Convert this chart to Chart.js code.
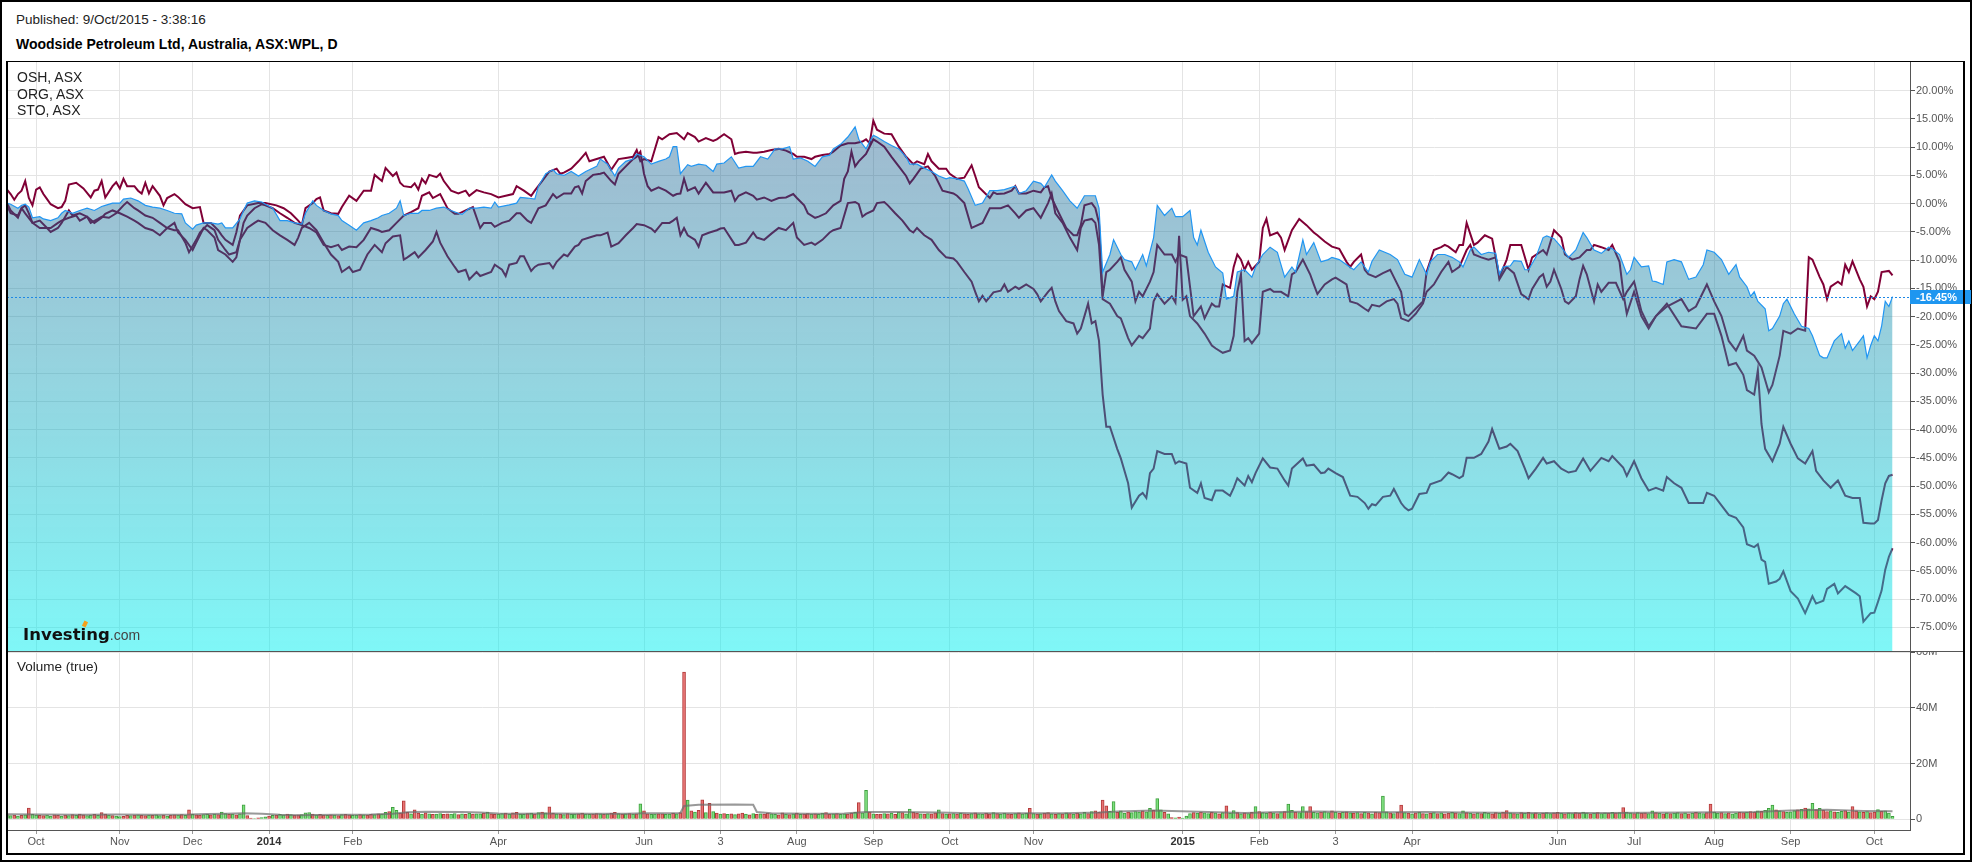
<!DOCTYPE html>
<html>
<head>
<meta charset="utf-8">
<title>Woodside Petroleum Ltd, Australia, ASX:WPL, D</title>
<script src="https://cdn.jsdelivr.net/npm/chart.js@4.4.1/dist/chart.umd.min.js"></script>
<style>
  html, body { margin: 0; padding: 0; background: #fff; }
  body { width: 1972px; height: 862px; position: relative; overflow: hidden; font-family: "Liberation Sans", Arial, sans-serif; color: #222; }
  .abs { position: absolute; white-space: nowrap; }
  #outer { left: 0; top: 0; width: 1972px; height: 862px; box-sizing: border-box; border: 2px solid #000; }
  #frame { left: 6px; top: 61px; width: 1959px; height: 794px; box-sizing: border-box; border: 2px solid #000; border-top-width: 1px; z-index: 5; }
  #sep { left: 7px; top: 651px; width: 1957px; height: 1px; background: #555; z-index: 4; }
  canvas { position: absolute; left: 0; }
  #price { top: 61px; z-index: 2; }
  #vol { top: 652px; z-index: 2; }
  .pub { font-size: 13.5px; line-height: 16px; }
  .ttl { font-size: 14px; line-height: 16px; font-weight: bold; color: #000; }
  .leg { font-size: 14px; line-height: 16px; z-index: 6; }
  #logo { left: 23px; top: 625px; z-index: 6; line-height: 20px; }
  #logo b { font-family: "DejaVu Sans", sans-serif; font-weight: bold; font-size: 16.5px; color: #111; }
  #logo span { font-size: 14px; color: #444; }
  #dot { left: 83px; top: 621px; width: 4px; height: 6px; background: #f5a01a; transform: rotate(25deg); z-index: 7; }
</style>
</head>
<body>
<div id="outer" class="abs"></div>
<div class="abs pub" style="left:16px; top:12px;">Published: 9/Oct/2015 - 3:38:16</div>
<div class="abs ttl" style="left:16px; top:36px;">Woodside Petroleum Ltd, Australia, ASX:WPL, D</div>

<canvas id="price" width="1972" height="591"></canvas>
<canvas id="vol" width="1972" height="202"></canvas>

<div id="frame" class="abs"></div>
<div id="sep" class="abs"></div>

<div class="abs leg" style="left:17px; top:69px;">OSH, ASX</div>
<div class="abs leg" style="left:17px; top:86px;">ORG, ASX</div>
<div class="abs leg" style="left:17px; top:102px;">STO, ASX</div>
<div id="logo" class="abs"><b>Investing</b><span>.com</span></div>
<div id="dot" class="abs"></div>
<div class="abs leg" style="left:17px; top:659px; font-size:13.5px;">Volume (true)</div>

<script>
// axe des x : index de seance (jour de bourse), 0 = 19 sept 2013, 518 = 9 oct 2015
const monthTicks = [8, 31, 51, 72, 95, 135, 175, 196, 217, 238, 259, 282, 323, 344, 365, 386, 426, 447, 469, 490, 513];
const monthLabels = ['Oct', 'Nov', 'Dec', '2014', 'Feb', 'Apr', 'Jun', '3', 'Aug', 'Sep', 'Oct', 'Nov', '2015', 'Feb', '3', 'Apr', 'Jun', 'Jul', 'Aug', 'Sep', 'Oct'];
const priceTicks = [20, 15, 10, 5, 0, -5, -10, -15, -20, -25, -30, -35, -40, -45, -50, -55, -60, -65, -70, -75];
const volTicks = [0, 20, 40, 60];

// variation en % depuis le debut : [seance, %]
const wpl = [[0,0.1],[1,-0.1],[3,-0.8],[4,-0.3],[5,-0.1],[6,-0.6],[7,-2.5],[9,-2.3],[10,-2.7],[12,-3.0],[14,-2.5],[15,-1.7],[16,-1.2],[18,-1.7],[20,-1.2],[22,-0.8],[24,-1.2],[26,-0.5],[27,-0.3],[29,0.1],[31,0.1],[32,0.8],[34,1.0],[36,0.5],[38,-0.3],[40,-0.6],[42,-0.8],[44,-1.2],[46,-1.7],[48,-1.8],[49,-3.4],[51,-4.5],[52,-3.8],[54,-3.4],[56,-3.4],[58,-3.6],[59,-3.4],[60,-4.3],[62,-4.3],[64,-2.7],[65,-1.2],[66,0.1],[68,0.5],[70,0.3],[71,-0.1],[73,-0.8],[75,-3.0],[77,-3.0],[79,-3.4],[81,-3.6],[82,-1.7],[84,0.5],[85,-0.3],[87,-1.2],[89,-1.8],[91,-2.1],[92,-3.0],[94,-3.8],[96,-4.7],[98,-3.4],[100,-3.0],[102,-2.5],[103,-2.1],[105,-1.7],[107,-0.8],[108,0.5],[109,-2.1],[111,-1.7],[113,-1.7],[114,-1.2],[116,-1.2],[118,-0.8],[120,-0.6],[122,-1.2],[124,-1.7],[125,-1.9],[127,-0.8],[129,-0.8],[131,-0.6],[133,-0.8],[134,0.3],[135,-0.6],[138,-0.2],[140,0.1],[141,1.1],[143,1.0],[145,0.8],[146,3.1],[148,5.3],[150,6.0],[151,5.3],[153,5.0],[155,5.7],[157,4.9],[159,5.7],[162,6.6],[163,7.9],[165,7.0],[167,4.9],[168,6.3],[170,7.5],[172,7.9],[173,8.8],[175,8.3],[177,7.0],[179,7.5],[181,7.9],[182,8.3],[183,10.1],[184,10.1],[185,5.3],[187,6.9],[188,6.6],[190,7.0],[192,6.8],[194,5.7],[195,7.0],[197,7.2],[199,8.3],[201,6.3],[203,6.6],[205,6.6],[207,8.3],[209,7.9],[211,9.7],[213,9.7],[215,10.1],[216,7.9],[218,8.1],[220,7.5],[222,6.6],[224,8.3],[226,8.6],[227,9.7],[229,10.5],[231,11.8],[233,13.6],[234,11.4],[236,9.7],[237,11.0],[238,12.1],[239,11.8],[241,11.0],[243,10.3],[245,9.7],[247,8.3],[248,7.0],[250,7.0],[252,6.3],[254,5.7],[256,4.9],[258,4.4],[259,4.6],[261,4.4],[263,4.0],[264,2.7],[266,-0.3],[268,0.1],[270,2.3],[272,2.3],[274,2.5],[276,2.9],[277,3.1],[278,1.8],[280,2.3],[282,4.0],[284,3.6],[285,2.9],[287,5.1],[288,4.0],[290,2.3],[292,0.5],[294,-0.8],[296,1.4],[298,1.4],[299,1.4],[300,-0.8],[301,-12.1],[303,-9.0],[304,-6.4],[306,-9.0],[307,-9.9],[309,-10.3],[310,-11.7],[312,-9.0],[313,-11.0],[315,-6.0],[316,-0.3],[318,-2.1],[320,-0.8],[321,-2.3],[323,-2.3],[325,-1.2],[326,-6.0],[327,-7.3],[328,-4.7],[330,-8.6],[332,-11.2],[334,-12.3],[335,-16.9],[337,-16.4],[338,-12.1],[340,-11.7],[342,-13.0],[343,-11.2],[345,-9.0],[347,-7.7],[349,-8.6],[351,-13.0],[353,-11.2],[354,-12.1],[356,-6.4],[357,-9.0],[359,-6.9],[361,-10.3],[363,-9.9],[364,-9.5],[366,-9.9],[368,-10.8],[370,-11.7],[372,-10.3],[374,-12.1],[375,-10.2],[377,-8.2],[380,-9.0],[382,-9.9],[384,-12.5],[386,-13.0],[388,-9.9],[390,-12.5],[391,-10.3],[393,-9.0],[395,-9.0],[397,-9.5],[399,-10.3],[400,-11.2],[402,-8.2],[403,-7.7],[405,-9.0],[407,-8.6],[409,-8.8],[410,-12.5],[411,-11.2],[413,-11.0],[414,-10.1],[416,-10.2],[417,-11.7],[418,-11.7],[420,-9.5],[422,-6.0],[423,-5.7],[425,-6.2],[427,-7.7],[429,-9.5],[431,-8.2],[433,-5.1],[434,-6.0],[436,-8.2],[438,-8.8],[440,-7.7],[441,-8.0],[443,-9.0],[445,-12.5],[446,-11.7],[447,-9.5],[449,-11.2],[451,-11.0],[452,-13.7],[453,-13.8],[455,-14.3],[456,-10.3],[458,-9.9],[460,-10.3],[462,-13.4],[464,-13.0],[466,-10.8],[467,-8.2],[469,-8.6],[471,-9.9],[473,-12.5],[475,-10.8],[476,-13.0],[478,-14.7],[479,-16.4],[480,-15.6],[481,-17.3],[483,-18.6],[484,-22.5],[485,-22.1],[487,-19.9],[488,-17.7],[489,-16.9],[491,-19.5],[493,-21.7],[495,-22.1],[496,-23.4],[498,-26.9],[499,-27.3],[500,-27.3],[502,-24.3],[504,-23.0],[505,-25.6],[506,-24.3],[507,-26.0],[509,-24.3],[510,-23.4],[511,-27.3],[512,-25.1],[513,-23.4],[514,-24.3],[515,-21.7],[516,-17.3],[517,-18.2],[518,-16.45]];

const osh = [[0,2.5],[1,1.7],[2,0.7],[3,1.7],[4,2.3],[5,4.0],[6,1.0],[7,-0.3],[8,2.5],[9,2.9],[10,1.7],[11,0.8],[12,-0.1],[14,-0.8],[15,-0.6],[16,0.5],[17,3.4],[19,3.7],[21,2.7],[23,1.1],[24,2.3],[25,2.5],[26,4.0],[27,1.1],[29,3.1],[30,3.8],[31,2.7],[32,4.4],[33,3.1],[35,3.1],[36,2.3],[37,1.8],[38,3.7],[39,1.8],[40,3.1],[42,1.4],[43,-0.3],[44,1.0],[46,1.7],[47,1.2],[49,-0.1],[51,-0.8],[53,-0.6],[54,-3.4],[56,-3.4],[58,-4.7],[59,-5.6],[60,-6.4],[62,-7.3],[63,-5.1],[64,-2.1],[66,-0.3],[69,0.1],[71,0.1],[74,-0.3],[76,-0.8],[78,-1.7],[80,-3.0],[81,-3.8],[82,-0.8],[84,0.1],[85,0.8],[86,1.1],[87,-1.2],[89,-1.7],[91,-1.8],[92,-0.6],[94,1.4],[96,0.5],[98,2.3],[100,2.3],[101,5.1],[103,4.0],[104,6.3],[106,4.9],[107,5.5],[108,3.7],[109,3.1],[111,2.9],[112,3.6],[113,2.5],[114,4.4],[115,3.6],[116,5.1],[118,4.7],[119,5.3],[120,4.0],[122,2.3],[124,1.8],[126,2.3],[127,1.4],[129,2.4],[131,2.0],[133,1.7],[135,1.1],[137,1.4],[139,1.7],[140,3.1],[142,2.3],[144,1.4],[145,2.3],[147,4.0],[149,5.7],[151,6.2],[152,5.3],[153,5.5],[155,6.2],[157,7.5],[159,9.0],[160,7.5],[162,7.9],[164,8.3],[166,6.0],[168,7.9],[170,8.1],[172,8.3],[173,9.5],[174,7.5],[175,7.9],[177,7.5],[179,11.8],[180,11.4],[182,12.3],[184,12.5],[186,11.4],[187,12.5],[189,11.8],[190,11.0],[192,11.6],[194,11.1],[195,11.4],[197,12.3],[199,11.4],[200,8.8],[201,9.0],[203,9.2],[205,9.0],[206,9.0],[208,9.2],[210,9.5],[212,9.7],[214,9.4],[216,8.8],[217,8.3],[219,8.3],[221,7.9],[222,8.3],[224,8.6],[226,8.8],[227,9.2],[229,10.3],[231,10.7],[233,10.7],[235,11.0],[236,11.4],[237,10.7],[238,14.7],[239,13.1],[241,12.4],[243,12.3],[245,10.1],[247,8.3],[249,7.0],[250,7.5],[252,7.0],[253,8.8],[254,7.5],[256,6.2],[258,6.2],[259,5.3],[261,4.4],[263,4.6],[265,6.8],[266,4.9],[267,2.9],[268,2.3],[270,1.0],[271,2.0],[272,1.7],[274,1.8],[276,2.3],[277,3.1],[278,1.8],[280,1.8],[282,2.3],[284,2.0],[285,2.9],[286,3.1],[287,1.0],[289,-1.7],[291,-4.3],[293,-5.6],[294,-5.6],[295,-3.8],[296,-0.3],[298,0.1],[299,-0.8],[300,-3.4],[301,-16.4],[302,-12.1],[303,-11.7],[305,-10.3],[306,-9.5],[307,-11.7],[309,-13.8],[310,-17.3],[311,-15.6],[312,-16.4],[314,-13.8],[315,-12.1],[316,-7.3],[318,-9.0],[320,-9.0],[321,-10.3],[322,-9.0],[324,-9.5],[325,-14.7],[326,-19.9],[328,-18.2],[329,-20.3],[331,-17.7],[332,-18.2],[333,-18.2],[334,-14.3],[336,-14.9],[337,-11.2],[338,-9.0],[339,-9.9],[340,-11.7],[341,-10.3],[342,-11.7],[344,-10.3],[345,-4.3],[346,-2.7],[347,-5.6],[349,-5.1],[350,-6.0],[351,-8.2],[353,-4.7],[355,-2.7],[357,-3.8],[359,-5.1],[360,-5.6],[362,-6.7],[364,-7.6],[366,-8.0],[368,-10.3],[369,-11.2],[370,-10.3],[372,-9.0],[373,-11.7],[374,-12.5],[376,-13.0],[378,-12.3],[380,-11.7],[381,-13.0],[383,-15.6],[384,-19.5],[385,-19.9],[387,-18.6],[389,-17.3],[390,-12.1],[392,-8.2],[394,-7.7],[395,-7.3],[396,-7.6],[398,-8.6],[399,-7.3],[400,-7.3],[401,-3.4],[403,-7.3],[404,-6.9],[406,-5.6],[408,-6.2],[409,-9.5],[410,-13.0],[412,-9.9],[413,-7.3],[416,-7.3],[417,-9.5],[418,-11.7],[419,-9.5],[422,-8.2],[423,-9.0],[425,-4.7],[427,-6.0],[428,-9.0],[430,-9.9],[432,-9.5],[434,-8.2],[435,-8.2],[436,-7.3],[438,-7.7],[440,-8.2],[441,-7.3],[443,-10.3],[444,-15.6],[445,-19.5],[447,-15.6],[449,-19.9],[451,-22.1],[453,-19.9],[456,-18.2],[460,-16.9],[462,-19.0],[464,-18.2],[467,-14.3],[469,-17.3],[471,-19.9],[473,-24.3],[475,-26.0],[477,-23.4],[478,-26.0],[480,-26.9],[482,-29.0],[484,-33.4],[485,-32.1],[487,-26.9],[488,-22.5],[490,-23.0],[492,-22.1],[494,-22.5],[495,-9.5],[496,-9.9],[498,-13.0],[499,-14.3],[500,-16.9],[501,-14.7],[503,-13.8],[504,-14.3],[505,-10.8],[506,-12.1],[507,-10.2],[509,-13.4],[510,-14.7],[511,-18.2],[512,-16.4],[513,-16.9],[514,-15.6],[515,-12.1],[517,-11.9],[518,-12.7]];

const org = [[0,0.1],[1,-1.2],[3,-2.5],[4,-0.8],[5,-0.3],[6,-1.7],[7,-3.4],[9,-3.0],[11,-4.3],[12,-5.0],[14,-4.3],[15,-3.4],[16,-2.3],[17,-1.2],[18,-2.1],[20,-1.7],[22,-2.3],[23,-3.4],[25,-2.7],[26,-2.3],[28,-2.5],[30,-1.7],[32,-0.3],[33,0.3],[35,-0.8],[36,-1.2],[38,-2.1],[40,-2.5],[42,-3.4],[44,-4.3],[46,-4.7],[47,-4.7],[49,-6.9],[50,-8.6],[52,-6.4],[53,-5.1],[55,-3.8],[57,-4.7],[58,-6.4],[60,-8.2],[61,-9.0],[63,-8.6],[64,-6.4],[65,-3.4],[66,-2.1],[68,-0.8],[70,-0.1],[71,-0.3],[73,-0.8],[75,-1.7],[77,-2.5],[79,-3.4],[81,-3.8],[83,-4.3],[85,-5.1],[87,-7.3],[89,-7.7],[91,-7.3],[92,-8.2],[94,-7.6],[96,-7.7],[98,-6.4],[100,-4.3],[102,-4.7],[103,-5.0],[105,-4.7],[107,-3.4],[109,-2.1],[111,-1.5],[113,-0.8],[114,1.4],[116,2.0],[117,1.0],[119,1.7],[121,-0.8],[123,-1.8],[124,-1.8],[126,-1.2],[128,-0.6],[130,-4.3],[131,-3.4],[133,-3.4],[134,-4.1],[136,-3.4],[138,-3.0],[140,-1.7],[141,-1.7],[143,-3.0],[144,-3.4],[146,-0.8],[148,-0.3],[150,1.7],[151,1.0],[153,1.8],[155,1.8],[156,2.9],[157,3.1],[158,1.8],[159,4.0],[161,5.1],[163,5.3],[164,5.5],[166,4.0],[167,3.4],[168,5.3],[170,6.6],[172,7.9],[173,8.3],[174,9.2],[175,5.3],[176,3.1],[177,2.3],[179,2.9],[181,2.3],[183,1.4],[184,1.7],[185,1.8],[186,4.4],[187,2.3],[189,2.9],[190,1.8],[192,3.7],[194,2.0],[195,2.0],[197,2.0],[199,2.3],[200,0.5],[201,1.4],[203,2.0],[205,1.4],[206,0.7],[208,1.1],[210,0.5],[212,1.0],[214,1.1],[216,1.7],[217,1.0],[219,-0.3],[220,-1.7],[222,-2.5],[223,-2.3],[225,-1.7],[227,-0.3],[228,0.1],[229,0.5],[230,4.4],[231,5.7],[232,9.2],[233,6.6],[234,7.5],[236,8.8],[238,11.4],[239,11.0],[241,10.1],[243,8.3],[245,6.6],[247,4.9],[248,3.6],[249,4.4],[251,6.2],[253,6.6],[255,4.9],[257,2.3],[260,1.8],[261,1.4],[263,0.1],[265,-4.3],[268,-3.4],[270,-0.8],[273,-0.8],[275,-0.3],[277,-1.7],[278,-2.5],[280,-1.2],[282,-0.8],[284,-2.5],[286,0.1],[287,1.8],[288,-1.7],[290,-3.4],[292,-6.0],[294,-8.2],[295,-4.3],[296,-3.0],[298,-2.7],[299,-3.4],[300,-7.3],[301,-16.9],[303,-17.7],[305,-19.9],[306,-20.3],[308,-23.8],[309,-25.1],[311,-23.4],[312,-23.8],[314,-22.1],[315,-17.3],[316,-16.0],[318,-17.7],[320,-16.4],[321,-17.5],[322,-5.7],[323,-17.0],[324,-16.4],[325,-19.9],[327,-21.2],[329,-23.0],[331,-25.1],[332,-25.6],[334,-26.4],[336,-26.0],[337,-23.4],[338,-15.6],[339,-12.5],[340,-24.3],[341,-23.8],[342,-24.7],[344,-23.0],[345,-15.6],[347,-15.1],[348,-15.6],[350,-15.6],[352,-16.4],[353,-12.5],[354,-12.1],[356,-9.9],[358,-12.5],[359,-14.3],[360,-16.0],[362,-14.3],[364,-13.4],[365,-13.1],[368,-14.3],[369,-17.3],[371,-17.7],[373,-18.6],[374,-19.0],[375,-17.9],[377,-18.2],[379,-17.3],[381,-16.9],[382,-17.7],[383,-20.3],[385,-20.8],[387,-19.5],[389,-17.7],[390,-15.6],[392,-14.3],[394,-12.1],[396,-10.3],[397,-12.1],[399,-11.2],[401,-8.2],[402,-7.3],[403,-9.0],[405,-9.5],[407,-9.9],[409,-9.5],[410,-13.4],[412,-11.2],[414,-12.3],[416,-16.0],[418,-16.9],[419,-15.1],[421,-13.0],[422,-12.5],[423,-14.7],[424,-13.8],[425,-11.7],[427,-15.1],[428,-17.3],[429,-17.7],[431,-16.4],[432,-13.4],[433,-11.0],[434,-12.5],[436,-17.3],[437,-14.3],[438,-15.6],[440,-14.0],[442,-14.0],[444,-16.9],[445,-15.6],[447,-13.8],[449,-19.0],[451,-21.7],[453,-19.9],[456,-17.7],[460,-21.7],[464,-22.1],[467,-19.5],[469,-19.5],[471,-23.4],[473,-28.6],[475,-28.2],[477,-30.3],[478,-33.0],[480,-33.8],[481,-29.5],[482,-39.0],[483,-43.4],[485,-45.6],[487,-42.5],[488,-39.5],[490,-42.5],[492,-45.1],[494,-46.0],[496,-43.8],[497,-47.3],[499,-49.0],[501,-50.3],[503,-49.0],[505,-51.7],[507,-52.1],[509,-52.1],[510,-56.5],[512,-56.6],[513,-56.6],[514,-56.0],[515,-52.5],[516,-49.5],[517,-48.2],[518,-48.0]];

const sto = [[0,-0.3],[1,-1.7],[3,-2.1],[4,-0.8],[5,-1.7],[7,-3.4],[9,-4.3],[10,-4.3],[12,-4.3],[14,-3.4],[15,-3.0],[17,-2.5],[19,-2.1],[20,-3.0],[22,-2.3],[24,-3.4],[26,-2.5],[27,-1.8],[29,-1.2],[31,-1.7],[33,-2.3],[35,-3.0],[36,-3.4],[38,-4.3],[40,-4.7],[42,-5.6],[44,-4.3],[46,-3.4],[47,-5.1],[49,-6.4],[51,-8.2],[52,-6.9],[54,-4.3],[55,-4.7],[57,-6.0],[58,-8.2],[60,-9.0],[62,-10.3],[63,-9.5],[64,-6.4],[66,-4.3],[68,-3.4],[69,-3.0],[71,-3.4],[73,-4.7],[75,-5.6],[77,-6.4],[79,-7.3],[80,-6.0],[81,-4.3],[83,-3.4],[85,-4.7],[87,-6.9],[89,-9.0],[91,-10.3],[92,-12.1],[94,-11.2],[95,-12.1],[97,-11.7],[99,-9.0],[101,-7.3],[103,-8.6],[104,-7.0],[106,-5.8],[108,-5.6],[109,-9.9],[110,-9.5],[112,-8.6],[113,-9.5],[115,-8.2],[117,-6.7],[118,-5.0],[119,-6.9],[121,-9.3],[123,-11.2],[124,-12.1],[126,-11.7],[127,-13.4],[129,-12.1],[130,-12.8],[133,-12.1],[134,-10.8],[136,-11.7],[137,-12.8],[138,-10.8],[140,-10.5],[141,-9.3],[142,-9.3],[144,-11.9],[145,-11.2],[146,-10.8],[149,-10.5],[150,-11.4],[151,-10.3],[153,-9.0],[154,-9.3],[156,-7.6],[157,-7.3],[158,-6.4],[160,-6.0],[162,-5.6],[163,-5.6],[165,-5.1],[166,-7.6],[168,-7.0],[170,-5.6],[172,-4.3],[173,-3.6],[175,-3.8],[177,-4.4],[178,-5.0],[180,-3.4],[182,-3.4],[183,-3.0],[184,-2.5],[185,-5.6],[186,-4.3],[187,-5.6],[189,-6.4],[190,-7.6],[191,-5.6],[193,-5.1],[195,-4.7],[196,-4.4],[197,-4.3],[200,-7.3],[201,-7.3],[203,-6.9],[205,-5.1],[206,-6.0],[208,-6.4],[210,-5.3],[212,-4.3],[214,-4.7],[216,-3.4],[217,-6.0],[219,-7.3],[221,-6.9],[222,-7.3],[224,-6.4],[226,-5.1],[227,-4.7],[229,-4.3],[231,0.1],[233,0.3],[234,-0.1],[235,-2.3],[236,-1.8],[238,-1.2],[239,0.1],[241,0.3],[242,-0.3],[244,-1.7],[246,-3.0],[248,-4.7],[249,-5.1],[250,-4.3],[252,-5.6],[254,-6.4],[256,-8.2],[258,-9.5],[260,-9.7],[261,-10.3],[263,-12.1],[265,-13.8],[266,-15.6],[267,-17.3],[268,-16.3],[269,-17.3],[271,-15.7],[273,-15.4],[274,-14.3],[275,-15.6],[277,-14.7],[278,-15.1],[280,-14.3],[282,-15.1],[283,-16.0],[284,-17.3],[286,-15.6],[287,-14.9],[288,-17.3],[289,-19.0],[291,-20.8],[293,-21.2],[294,-23.0],[295,-22.1],[297,-17.7],[298,-21.2],[299,-20.8],[300,-24.3],[301,-33.8],[302,-39.5],[303,-39.5],[305,-43.4],[306,-45.1],[308,-49.5],[309,-53.8],[311,-51.7],[312,-51.2],[313,-52.1],[314,-47.7],[315,-46.9],[316,-43.8],[318,-44.3],[320,-44.3],[321,-46.0],[322,-45.6],[324,-46.0],[325,-50.3],[327,-51.2],[328,-49.5],[329,-52.1],[331,-52.5],[332,-50.8],[334,-50.8],[336,-51.7],[337,-50.3],[338,-48.6],[340,-49.9],[341,-48.2],[342,-49.3],[343,-47.7],[345,-45.1],[347,-46.7],[349,-46.9],[351,-49.0],[352,-49.9],[353,-46.9],[356,-45.1],[357,-46.4],[359,-46.2],[361,-47.7],[362,-47.6],[363,-46.9],[365,-47.7],[367,-48.4],[369,-51.7],[371,-51.9],[373,-53.0],[374,-54.0],[375,-53.2],[376,-53.4],[378,-51.9],[380,-51.7],[381,-50.5],[383,-53.0],[384,-53.8],[385,-54.3],[386,-54.0],[388,-51.4],[390,-51.2],[391,-49.7],[394,-49.0],[396,-47.6],[397,-47.9],[399,-48.6],[400,-48.2],[401,-45.0],[403,-45.0],[405,-44.3],[407,-42.1],[408,-39.9],[410,-43.4],[412,-43.0],[413,-42.5],[415,-43.8],[417,-46.9],[418,-48.6],[420,-46.9],[422,-45.0],[423,-46.0],[425,-45.6],[427,-46.9],[429,-47.6],[431,-47.3],[433,-45.1],[435,-47.3],[438,-45.0],[440,-45.6],[441,-44.7],[444,-46.7],[445,-48.2],[447,-45.6],[449,-48.6],[451,-50.8],[453,-50.3],[455,-50.8],[456,-48.4],[458,-49.5],[460,-50.3],[462,-53.0],[464,-53.0],[466,-53.0],[467,-51.2],[469,-51.7],[471,-53.4],[473,-55.1],[475,-55.6],[477,-57.3],[478,-60.3],[480,-60.8],[481,-60.3],[482,-63.0],[483,-63.4],[484,-67.3],[486,-66.9],[487,-66.4],[488,-65.1],[490,-68.6],[492,-69.9],[494,-72.5],[496,-69.5],[497,-70.8],[499,-70.3],[500,-68.2],[502,-67.3],[503,-69.0],[505,-67.7],[508,-69.0],[509,-69.5],[510,-74.0],[512,-72.5],[513,-72.4],[514,-70.5],[515,-68.5],[516,-64.8],[517,-62.5],[518,-61.0]];

// volume journalier (millions), une valeur par seance
const volume = [
  1.6,1.3,1.5,1.2,1.4,1.6,4.0,1.8,1.5,1.4, 1.3,1.5,1.2,1.6,1.4,1.2,1.5,1.3,1.7,1.4,
  1.9,1.6,1.3,1.5,1.8,1.4,2.4,1.9,1.5,1.3, 1.2,1.0,1.1,1.4,1.3,1.5,1.6,1.4,1.3,1.5,
  1.4,1.6,1.3,1.5,1.2,1.4,1.6,1.5,1.7,1.4, 3.4,1.8,1.6,1.5,1.7,1.8,1.6,1.9,1.7,2.6,
  2.1,1.8,1.9,1.6,2.0,5.2,1.3,0.4,0.3,0.5, 0.6,0.9,1.2,1.4,1.5,1.8,1.6,1.9,1.7,1.5,
  1.6,1.7,2.3,2.4,1.9,1.6,1.8,1.5,1.4,1.6, 1.5,1.3,1.7,1.8,1.6,1.4,1.5,1.7,1.6,1.5,
  1.8,1.7,2.0,1.9,2.5,2.8,4.3,3.2,2.2,6.6, 2.5,2.0,3.4,2.2,1.9,2.3,2.0,1.8,1.9,2.1,
  1.8,2.0,1.9,2.1,1.7,2.0,1.8,2.2,1.9,2.0, 2.0,2.2,2.6,2.0,1.8,1.9,2.1,2.2,1.9,2.3,
  2.5,1.9,1.8,2.1,2.2,1.9,2.4,2.6,2.3,4.5, 2.2,2.0,1.9,1.7,2.1,1.8,1.9,2.0,2.2,1.9,
  1.8,1.9,2.1,2.0,1.8,2.0,2.2,2.5,2.1,1.9, 2.0,2.1,1.9,2.0,5.6,3.0,2.0,1.8,1.9,2.0,
  2.0,1.8,1.9,2.2,2.0,2.4,52.9,6.9,3.0,2.6, 3.2,7.0,2.4,5.7,2.8,2.2,1.9,2.1,1.8,2.0,
  1.7,2.0,2.2,1.9,1.6,2.1,1.8,2.0,1.9,2.2, 2.0,1.8,1.6,2.3,1.9,1.7,2.0,2.2,1.8,1.9,
  2.1,1.9,2.0,1.8,2.2,2.4,1.9,2.0,2.1,1.8, 2.0,1.9,2.2,2.5,6.0,2.3,10.4,2.6,2.0,1.8,
  1.9,2.1,2.0,2.2,1.8,2.6,2.4,2.0,3.7,2.5, 2.2,2.0,1.9,2.1,2.0,2.3,3.4,2.1,1.9,2.0,
  2.1,1.9,2.2,2.0,1.8,2.1,2.3,2.0,1.9,2.2, 2.0,2.4,2.1,1.9,2.2,2.0,1.8,2.1,2.3,2.0,
  2.2,3.9,2.1,1.9,2.0,2.2,2.4,2.0,1.8,2.1, 2.0,2.3,2.1,1.9,2.2,2.0,2.5,2.1,2.8,3.0,
  2.6,6.9,4.8,2.9,6.4,2.5,3.0,2.2,2.6,2.4, 2.8,2.6,3.0,2.7,3.9,3.2,7.4,3.4,2.5,2.0,
  0.6,0.5,0.8,0.4,1.2,2.1,2.4,2.2,2.6,2.3, 2.1,2.5,2.3,2.0,2.4,4.8,2.2,3.1,2.4,2.0,
  2.3,2.1,2.5,4.6,2.8,2.4,2.2,2.6,2.3,2.1, 2.4,2.8,5.5,3.2,2.6,2.4,4.6,2.8,4.6,2.5,
  2.3,2.6,2.8,2.4,3.0,2.6,2.2,2.5,2.7,2.3, 2.2,2.4,2.1,2.5,2.3,2.0,2.6,2.4,8.3,2.7,
  2.3,2.1,2.5,5.1,2.4,2.2,2.0,2.3,2.6,2.1, 2.0,2.2,2.4,2.1,2.3,2.0,2.2,2.5,2.3,2.1,
  3.0,2.4,2.2,2.0,2.3,2.1,2.5,2.2,2.0,2.4, 2.2,2.6,3.1,2.3,2.1,2.0,2.4,2.2,2.5,2.1,
  2.3,2.0,2.2,2.4,2.1,2.3,2.5,2.2,2.0,2.3, 2.1,2.4,2.2,2.6,2.3,2.0,2.2,2.4,2.1,2.3,
  2.2,2.5,2.3,2.4,4.2,2.6,2.3,2.1,2.4,2.2, 2.3,2.1,3.0,2.4,2.2,2.0,2.3,2.1,2.2,2.4,
  2.1,2.3,2.0,2.2,2.5,2.3,2.1,2.4,5.5,2.6, 2.2,2.4,2.1,2.3,2.0,2.2,2.5,2.4,2.6,2.8,
  2.6,3.0,2.9,3.2,3.9,5.1,3.4,3.0,2.8,2.5, 2.7,3.1,3.4,3.6,4.0,3.8,5.7,3.5,3.9,3.2,
  2.8,3.0,2.7,2.5,2.9,3.1,2.6,4.6,3.0,2.7, 2.5,2.8,2.4,2.6,3.5,2.9,3.0,2.2,1.1
];
// g = seance en hausse (vert), r = en baisse (rouge)
const volDir = [
  'ggrgrgrggr','rggrrgrgrg','rrggrgrrgr','ggrrgrgrrg','rggrgrrgrg','rgrrggrgrg','grgrggrrgr','ggrgrggrgr',
  'rgggrgrrgr','grgrrggrgr','rgrggrggrr','rgrrgrgrgg','rrggrgrgrg','grgrrggrgr','rggrgrgrgr','rgrgrggrrg',
  'grrgrgrrgr','grgrgrrggr','rggrgrrgrg','rrgrgrgrgr','grrgrgrgrr','ggrrgrgrgr','rgrggrrgrg','grrgrggrgr',
  'rgrgrgrggr','rgrgrrgrgr','grgrrgrggr','rgrggrrgrg','grgrgrrgrg','rgrgrggrgr','rrrggrggrg','ggrggrggrg',
  'rgrgggrgrg','grgrgrggrg','rgrgrggrgr','grggrggrrg','grggrgrgrg','rgrgrgrrgg','rgrrgrgrgr','grgrgrrgrg',
  'grgrgrggrr','grrgrgrgrg','rgrggrrgrg','grrggrgrgg','rgrgrggrgr','rggrgrgrgg','rgrgrggrrg','grgrggrrgr',
  'rgrgggrgrg','ggrgrggrgr','rgrggrgrrg','rgrrgrggg'
].join('').split('');
// moyenne mobile du volume (millions) : [seance, valeur]
const volAvg = [[0,1.8],[10,1.7],[20,1.6],[30,1.7],[40,1.6],[50,1.7],[55,1.9],[60,2.0],[65,2.2],[70,2.0],[75,1.6],[80,1.5],[90,1.6],[100,1.7],[106,2.0],[110,2.5],[115,2.7],[125,2.6],[130,2.4],[135,2.1],[140,2.0],[150,2.1],[160,2.0],[170,2.0],[175,2.2],[180,2.2],[185,2.3],[186,4.8],[190,5.2],[200,5.3],[205,5.2],[206,2.6],[210,2.2],[220,2.0],[230,2.1],[236,2.6],[245,2.6],[256,2.4],[265,2.2],[280,2.2],[290,2.2],[300,2.4],[305,2.8],[315,3.2],[320,3.0],[330,2.6],[340,2.3],[350,2.6],[360,2.8],[370,2.6],[380,2.5],[390,2.6],[400,2.4],[420,2.3],[440,2.3],[460,2.4],[470,2.5],[480,2.6],[490,3.2],[500,3.4],[510,3.0],[518,2.9]];

const FONT = '"Liberation Sans", Arial, sans-serif';
const GRID = '#e4e4e4';
const MAROON = '#800036';
const lastWpl = wpl[wpl.length - 1][1];
const xMax = 522.8;

Chart.defaults.font.family = FONT;

const toXY = arr => arr.map(p => ({ x: p[0], y: p[1] }));
const isYear = ctx => !!(ctx.tick && /^\d{4}$/.test(ctx.tick.label));

// degrade de la zone WPL (transparent, dessine par-dessus les autres courbes)
function wplFill(context) {
  const chart = context.chart;
  const area = chart.chartArea;
  if (!area) return 'rgba(0,150,200,0.4)';
  const g = chart.ctx.createLinearGradient(0, area.top, 0, area.bottom);
  g.addColorStop(0, 'rgba(10,60,120,0.38)');
  g.addColorStop(0.5, 'rgba(22,155,182,0.45)');
  g.addColorStop(1, 'rgba(0,240,240,0.5)');
  return g;
}

// ligne pointillee + etiquette de la derniere valeur
const lastValueMarker = {
  id: 'lastValueMarker',
  afterDatasetsDraw(chart) {
    const c = chart.ctx;
    const y = Math.round(chart.scales.y.getPixelForValue(lastWpl)) + 0.5;
    c.save();
    c.strokeStyle = '#1e88e5';
    c.lineWidth = 1;
    c.setLineDash([2, 2]);
    c.beginPath();
    c.moveTo(chart.chartArea.left, y);
    c.lineTo(chart.chartArea.right, y);
    c.stroke();
    c.restore();
  },
  afterDraw(chart) {
    const c = chart.ctx;
    const y = Math.round(chart.scales.y.getPixelForValue(lastWpl));
    const x = chart.chartArea.right;
    c.save();
    c.fillStyle = '#1e96f0';
    c.fillRect(x, y - 7, 61, 14);
    c.fillStyle = '#fff';
    c.font = 'bold 11px ' + FONT;
    c.textBaseline = 'middle';
    c.fillText(lastWpl.toFixed(2) + '%', x + 6, y + 1);
    c.restore();
  }
};

const lineStyle = { borderColor: MAROON, borderWidth: 2, pointRadius: 0, fill: false, tension: 0 };

new Chart(document.getElementById('price'), {
  type: 'line',
  data: {
    datasets: [
      { label: 'WPL', data: toXY(wpl), borderColor: '#2196f3', borderWidth: 1.2, pointRadius: 0, tension: 0, fill: 'start', backgroundColor: wplFill },
      Object.assign({ label: 'OSH, ASX', data: toXY(osh) }, lineStyle),
      Object.assign({ label: 'ORG, ASX', data: toXY(org) }, lineStyle),
      Object.assign({ label: 'STO, ASX', data: toXY(sto) }, lineStyle)
    ]
  },
  options: {
    responsive: false,
    animation: false,
    events: [],
    layout: { padding: { left: 7, right: 8, top: 0, bottom: 0 } },
    plugins: { legend: { display: false }, tooltip: { enabled: false } },
    scales: {
      x: {
        type: 'linear', min: 0, max: xMax,
        afterBuildTicks: s => { s.ticks = monthTicks.map(v => ({ value: v })); },
        ticks: { display: false },
        grid: { color: GRID, drawTicks: false },
        border: { display: false },
        afterFit: s => { s.height = 0; s.paddingLeft = 0; s.paddingRight = 0; }
      },
      y: {
        position: 'right', min: -79.37, max: 25.26,
        afterBuildTicks: s => { s.ticks = priceTicks.map(v => ({ value: v })); },
        ticks: { color: '#555', font: { size: 11 }, padding: 1, callback: v => v.toFixed(2) + '%' },
        grid: { color: GRID, tickColor: '#555', tickLength: 5 },
        border: { color: '#555' },
        afterFit: s => { s.width = 54; s.paddingTop = 0; s.paddingBottom = 0; }
      }
    }
  },
  plugins: [lastValueMarker]
});

new Chart(document.getElementById('vol'), {
  type: 'bar',
  data: {
    datasets: [
      { type: 'line', data: toXY(volAvg), borderColor: 'rgba(110,110,110,0.7)', borderWidth: 2, pointRadius: 0, tension: 0, fill: false },
      {
        type: 'bar',
        data: volume.map((v, i) => ({ x: i, y: v })),
        backgroundColor: volDir.map(d => d === 'g' ? '#7ee07e' : '#e87474'),
        borderColor: volDir.map(d => d === 'g' ? '#3f9f3f' : '#b33a3a'),
        borderWidth: 1,
        barThickness: 3
      }
    ]
  },
  options: {
    responsive: false,
    animation: false,
    events: [],
    layout: { padding: { left: 7, right: 8, top: 0, bottom: 0 } },
    plugins: { legend: { display: false }, tooltip: { enabled: false } },
    scales: {
      x: {
        type: 'linear', min: 0, max: xMax, offset: false,
        afterBuildTicks: s => { s.ticks = monthTicks.map(v => ({ value: v })); },
        ticks: {
          autoSkip: false, maxRotation: 0, padding: 1,
          callback: v => monthLabels[monthTicks.indexOf(v)],
          color: ctx => isYear(ctx) ? '#333' : '#555',
          font: ctx => ({ size: 11, weight: isYear(ctx) ? 'bold' : 'normal' })
        },
        grid: { color: GRID, offset: false, tickColor: '#999', tickLength: 4 },
        border: { color: '#555' },
        afterFit: s => { s.height = 24; s.paddingLeft = 0; s.paddingRight = 0; }
      },
      y: {
        position: 'right', min: -3.84, max: 60.07,
        afterBuildTicks: s => { s.ticks = volTicks.map(v => ({ value: v })); },
        ticks: { color: '#555', font: { size: 11 }, padding: 1, callback: v => v === 0 ? '0' : v + 'M' },
        grid: { color: GRID, tickColor: '#555', tickLength: 5 },
        border: { color: '#555' },
        afterFit: s => { s.width = 54; s.paddingTop = 0; s.paddingBottom = 0; }
      }
    }
  }
});
</script>
</body>
</html>
